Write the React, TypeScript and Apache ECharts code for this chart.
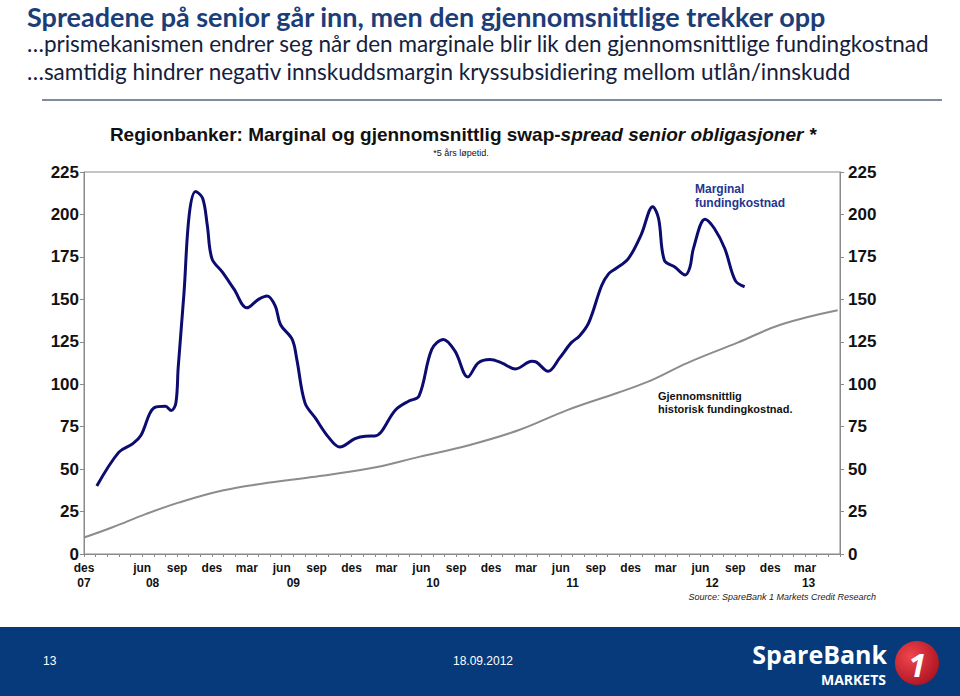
import React, { useEffect, useRef } from "react";
import * as echarts from "echarts";

// x positions are months counted from Dec 2007 (des 07 = 0)
const monthTickPos = [1, 6, 9, 12, 15, 18, 21, 24, 27, 30, 33, 36, 39, 42, 45, 48, 51, 54, 57, 60, 63];
const monthTickLabels = ["des", "jun", "sep", "des", "mar", "jun", "sep", "des", "mar", "jun", "sep", "des", "mar", "jun", "sep", "des", "mar", "jun", "sep", "des", "mar"];
const yearTickPos = [1, 6.9, 19, 31, 43, 55, 63.3];
const yearTickLabels = ["07", "08", "09", "10", "11", "12", "13"];
const yTicks = [0, 25, 50, 75, 100, 125, 150, 175, 200, 225];

const marginalMonths = [2.1, 4.0, 5.2, 5.9, 7.0, 8.0, 8.5, 8.9, 9.1, 9.6, 10.05, 10.6, 11.2, 11.6, 12.0, 12.9, 13.9, 15.0, 16.0, 16.75, 17.45, 17.9, 18.9, 19.3, 20.0, 20.9, 22.0, 23.0, 24.3, 25.2, 26.0, 27.8, 28.9, 29.8, 30.9, 31.9, 32.9, 34.0, 34.9, 35.9, 36.9, 38.1, 39.5, 39.9, 40.9, 41.9, 42.9, 43.6, 44.4, 45.5, 46.1, 46.7, 47.8, 48.9, 49.9, 50.4, 50.9, 51.8, 52.7, 53.1, 53.4, 54.4, 55.2, 56.1, 57.0, 57.8];
const marginalValues = [40, 60, 65, 70, 86, 87, 84.5, 89, 110, 154, 200, 213.5, 209.5, 193.6, 174, 166, 156, 145, 150, 152, 146, 135, 126.4, 114.5, 89, 80, 69, 63, 68, 69.4, 69.5, 85, 90, 93, 120.5, 126.4, 119.5, 104.3, 112.6, 114.5, 112.6, 109, 113.5, 113, 107.6, 115.5, 124.5, 128.4, 136.3, 158, 165, 168, 174, 188, 204.6, 197.6, 173, 169, 164.4, 169, 180, 197.2, 191.7, 179.8, 161, 157.4];

const averageMonths = [1.0, 3.4, 6.3, 9.2, 12.9, 16.3, 20.6, 25.5, 29.8, 34.1, 38.4, 42.6, 46.9, 49.5, 52.9, 57.2, 61.0, 65.8];
const averageValues = [9.7, 15.6, 23.5, 30.4, 37.4, 41.4, 45.3, 50.3, 57.2, 64.1, 73, 84.9, 95.0, 101.5, 112.6, 124.5, 135.3, 143.6];

const zip = (xs: number[], ys: number[]) => xs.map((x, i) => [x, ys[i]]);

export default function App() {
  const ref = useRef<HTMLDivElement>(null);
  useEffect(() => {
    if (!ref.current) return;
    const chart = echarts.init(ref.current, undefined, { renderer: "svg" });
    const axisFont = "Liberation Sans, Arial, sans-serif";
    const yAxisCommon = {
      type: "value",
      min: 0,
      max: 225,
      interval: 25,
      splitLine: { show: false },
      axisLine: { show: true, lineStyle: { color: "#8a8a8a", width: 1 } },
      axisTick: { show: true, length: 4, lineStyle: { color: "#8a8a8a" } },
    };
    const option: any = {
      animation: false,
      backgroundColor: "#ffffff",
      grid: { left: 84, right: 120, top: 172, bottom: 142, show: true, borderColor: "#8a8a8a", borderWidth: 1 },
      xAxis: [
        {
          type: "value",
          min: 1,
          max: 66,
          splitLine: { show: false },
          axisLine: { show: true, onZero: false, lineStyle: { color: "#8a8a8a" } },
          axisTick: {
            show: true,
            length: 3,
            customValues: Array.from({ length: 66 }, (_, i) => i + 1),
            lineStyle: { color: "#8a8a8a" },
          },
          axisLabel: {
            customValues: monthTickPos,
            formatter: (v: number) => {
              const i = monthTickPos.findIndex((p) => Math.abs(p - v) < 1e-6);
              return i >= 0 ? monthTickLabels[i] : "";
            },
            color: "#111",
            fontFamily: axisFont,
            fontWeight: "bold",
            fontSize: 12,
            margin: 8,
          },
        },
        {
          type: "value",
          min: 1,
          max: 66,
          position: "bottom",
          offset: 15,
          splitLine: { show: false },
          axisLine: { show: false },
          axisTick: { show: false },
          axisLabel: {
            customValues: yearTickPos,
            formatter: (v: number) => {
              const i = yearTickPos.findIndex((p) => Math.abs(p - v) < 1e-6);
              return i >= 0 ? yearTickLabels[i] : "";
            },
            color: "#111",
            fontFamily: axisFont,
            fontWeight: "bold",
            fontSize: 12,
            margin: 8,
          },
        },
      ],
      yAxis: [
        {
          ...yAxisCommon,
          position: "left",
          axisLabel: {
            customValues: yTicks,
            color: "#111",
            fontFamily: axisFont,
            fontWeight: "bold",
            fontSize: 17,
            margin: 5,
          },
        },
        {
          ...yAxisCommon,
          position: "right",
          axisLabel: {
            customValues: yTicks,
            color: "#111",
            fontFamily: axisFont,
            fontWeight: "bold",
            fontSize: 17,
            margin: 8,
          },
        },
      ],
      series: [
        {
          name: "Gjennomsnittlig historisk fundingkostnad",
          type: "line",
          data: zip(averageMonths, averageValues),
          showSymbol: false,
          smooth: 0.4,
          lineStyle: { color: "#8c8c8c", width: 2 },
          z: 2,
        },
        {
          name: "Marginal fundingkostnad",
          type: "line",
          data: zip(marginalMonths, marginalValues),
          showSymbol: false,
          smooth: 0.35,
          lineStyle: { color: "#0c0c70", width: 3 },
          z: 3,
        },
      ],
      graphic: [
        {
          type: "text",
          left: 27,
          top: 3,
          style: {
            text: "Spreadene på senior går inn, men den gjennomsnittlige trekker opp",
            fill: "#1b3d78",
            font: "bold 27px Lato, 'Open Sans', sans-serif",
          },
        },
        {
          type: "text",
          left: 27,
          top: 32,
          style: {
            text: "…prismekanismen endrer seg når den marginale blir lik den gjennomsnittlige fundingkostnad",
            fill: "#14203c",
            font: "22.5px Lato, 'Open Sans', sans-serif",
          },
        },
        {
          type: "text",
          left: 27,
          top: 60,
          style: {
            text: "…samtidig hindrer negativ innskuddsmargin kryssubsidiering mellom utlån/innskudd",
            fill: "#14203c",
            font: "22.5px Lato, 'Open Sans', sans-serif",
          },
        },
        {
          type: "line",
          shape: { x1: 42, y1: 100, x2: 942, y2: 100 },
          style: { stroke: "#56647e", lineWidth: 1.5 },
        },
        {
          type: "text",
          x: 463,
          y: 134,
          style: {
            text: "{n|Regionbanker: Marginal og gjennomsnittlig swap-}{i|spread senior obligasjoner *}",
            align: "center",
            verticalAlign: "middle",
            rich: {
              n: { font: "bold 19px 'Liberation Sans', Arial, sans-serif", fill: "#111" },
              i: { font: "italic bold 19px 'Liberation Sans', Arial, sans-serif", fill: "#111" },
            },
          },
        },
        {
          type: "text",
          x: 461,
          y: 153,
          style: {
            text: "*5 års løpetid.",
            align: "center",
            verticalAlign: "middle",
            fill: "#111",
            font: "9px 'Liberation Sans', Arial, sans-serif",
          },
        },
        {
          type: "text",
          x: 695,
          y: 182,
          style: {
            text: "Marginal\nfundingkostnad",
            fill: "#24358f",
            font: "bold 12px 'Liberation Sans', Arial, sans-serif",
            lineHeight: 14,
          },
        },
        {
          type: "text",
          x: 658,
          y: 389,
          style: {
            text: "Gjennomsnittlig\nhistorisk fundingkostnad.",
            fill: "#111",
            font: "bold 11px 'Liberation Sans', Arial, sans-serif",
            lineHeight: 13,
          },
        },
        {
          type: "text",
          x: 876,
          y: 597,
          style: {
            text: "Source: SpareBank 1 Markets Credit Research",
            align: "right",
            verticalAlign: "middle",
            fill: "#222",
            font: "italic 9px 'Liberation Sans', Arial, sans-serif",
          },
        },
        {
          type: "rect",
          shape: { x: 0, y: 627, width: 960, height: 69 },
          style: { fill: "#063a7a" },
        },
        {
          type: "text",
          x: 43,
          y: 661,
          style: {
            text: "13",
            verticalAlign: "middle",
            fill: "#ffffff",
            font: "12px 'Liberation Sans Narrow', 'Liberation Sans', Arial, sans-serif",
          },
        },
        {
          type: "text",
          x: 483,
          y: 661,
          style: {
            text: "18.09.2012",
            align: "center",
            verticalAlign: "middle",
            fill: "#ffffff",
            font: "12px 'Liberation Sans Narrow', 'Liberation Sans', Arial, sans-serif",
          },
        },
        {
          type: "text",
          x: 887,
          y: 654,
          style: {
            text: "SpareBank",
            align: "right",
            verticalAlign: "middle",
            fill: "#ffffff",
            font: "bold 25px 'Open Sans', sans-serif",
          },
        },
        {
          type: "text",
          x: 886,
          y: 679,
          style: {
            text: "MARKETS",
            align: "right",
            verticalAlign: "middle",
            fill: "#ffffff",
            font: "bold 14px 'Open Sans', sans-serif",
          },
        },
        {
          type: "circle",
          shape: { cx: 917, cy: 663, r: 22 },
          style: {
            fill: new echarts.graphic.RadialGradient(0.35, 0.35, 0.8, [
              { offset: 0, color: "#f0454c" },
              { offset: 1, color: "#a50f1d" },
            ]),
          },
        },
        {
          type: "text",
          x: 917,
          y: 664,
          style: {
            text: "1",
            align: "center",
            verticalAlign: "middle",
            fill: "#ffffff",
            font: "italic bold 32px 'Open Sans', sans-serif",
          },
        },
      ],
    };
    chart.setOption(option);
    return () => chart.dispose();
  }, []);
  return <div ref={ref} style={{ position: "absolute", left: 0, top: 0, width: 960, height: 696 }} />;
}
